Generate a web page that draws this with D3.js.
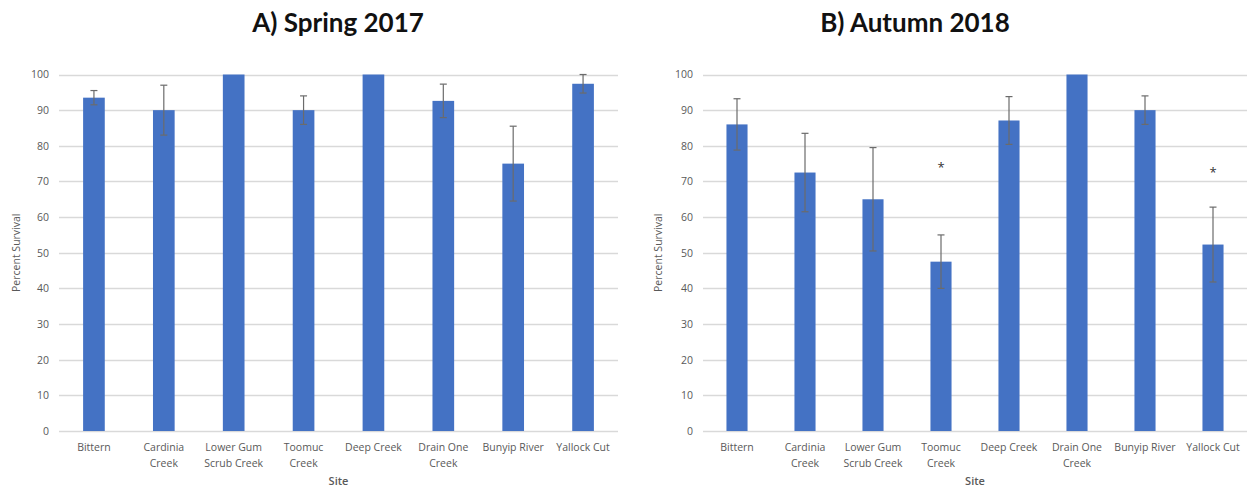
<!DOCTYPE html>
<html>
<head>
<meta charset="utf-8">
<script src="https://cdn.jsdelivr.net/npm/d3@7"></script>
<style>
  html, body { margin: 0; padding: 0; background: #fff; }
  svg { display: block; }
</style>
</head>
<body>
<svg id="chart" width="1252" height="490"></svg>
<script>
const sites = ["Bittern", "Cardinia Creek", "Lower Gum Scrub Creek", "Toomuc Creek", "Deep Creek", "Drain One Creek", "Bunyip River", "Yallock Cut"];
const siteLabels = [["Bittern"], ["Cardinia", "Creek"], ["Lower Gum", "Scrub Creek"], ["Toomuc", "Creek"], ["Deep Creek"], ["Drain One", "Creek"], ["Bunyip River"], ["Yallock Cut"]];
const spring2017 = [93.5, 90, 100, 90, 100, 92.6, 75, 97.4];
const spring2017Err = [2, 7, 0, 4, 0, 4.7, 10.5, 2.6];
const autumn2018 = [86, 72.5, 65, 47.5, 87.1, 100, 90, 52.3];
const autumn2018Err = [7.2, 11, 14.5, 7.5, 6.7, 0, 4, 10.5];
const autumn2018Sig = [false, false, false, true, false, false, false, true];
const sigLevel = [null, null, null, 74.2, null, null, null, 72.9];
const yTicks = [0, 10, 20, 30, 40, 50, 60, 70, 80, 90, 100];
const titles = ["A) Spring 2017", "B) Autumn 2018"];

const svg = d3.select("#chart");
const panels = [
  { title: titles[0], vals: spring2017, err: spring2017Err, x0: 59, x1: 618, titleX: 338, ylabX: 20, sig: null },
  { title: titles[1], vals: autumn2018, err: autumn2018Err, x0: 703, x1: 1247, titleX: 915, ylabX: 662, sig: autumn2018Sig }
];

const y = d3.scaleLinear().domain([0, 100]).range([431, 74.5]);
const axisFont = "'Open Sans', 'DejaVu Sans', sans-serif";

panels.forEach(p => {
  const g = svg.append("g");
  const x = d3.scaleBand().domain(sites).range([p.x0, p.x1]).paddingInner(0.69).paddingOuter(0.345);

  // gridlines
  g.append("g").selectAll("line").data(yTicks).join("line")
    .attr("x1", p.x0).attr("x2", p.x1)
    .attr("y1", d => Math.round(y(d)) + 0.5).attr("y2", d => Math.round(y(d)) + 0.5)
    .attr("stroke", "#d9d9d9").attr("stroke-width", 1.3);

  // y axis labels
  const yAxis = d3.axisLeft(y).tickValues(yTicks).tickSize(0).tickPadding(10);
  const ya = g.append("g").attr("transform", `translate(${p.x0},0)`).call(yAxis);
  ya.select(".domain").remove();
  ya.selectAll("text").attr("fill", "#595959").style("font-family", axisFont).style("font-size", "10.5px");

  // bars
  g.append("g").selectAll("rect").data(p.vals).join("rect")
    .attr("x", (d, i) => x(sites[i]))
    .attr("width", x.bandwidth())
    .attr("y", d => y(d))
    .attr("height", d => y(0) - y(d))
    .attr("fill", "#4472c4");

  // error bars
  const eb = g.append("g").attr("stroke", "#6b6b6b").attr("stroke-width", 1.2);
  p.vals.forEach((v, i) => {
    const e = p.err[i];
    if (!e) return;
    const cx = x(sites[i]) + x.bandwidth() / 2;
    const top = Math.min(100, v + e);
    eb.append("line").attr("x1", cx).attr("x2", cx).attr("y1", y(top)).attr("y2", y(v - e));
    eb.append("line").attr("x1", cx - 3.5).attr("x2", cx + 3.5).attr("y1", y(top)).attr("y2", y(top));
    eb.append("line").attr("x1", cx - 3.5).attr("x2", cx + 3.5).attr("y1", y(v - e)).attr("y2", y(v - e));
  });

  // significance asterisks
  if (p.sig) {
    p.sig.forEach((s, i) => {
      if (!s) return;
      g.append("text")
        .attr("x", x(sites[i]) + x.bandwidth() / 2)
        .attr("y", y(sigLevel[i]) + 6)
        .attr("text-anchor", "middle")
        .attr("fill", "#333")
        .style("font-family", axisFont).style("font-size", "13px")
        .text("*");
    });
  }

  // x labels
  const xl = g.append("g");
  siteLabels.forEach((lines, i) => {
    const cx = x(sites[i]) + x.bandwidth() / 2;
    const t = xl.append("text").attr("x", cx).attr("y", 451)
      .attr("text-anchor", "middle").attr("fill", "#595959")
      .style("font-family", axisFont).style("font-size", "10.5px");
    lines.forEach((ln, k) => {
      t.append("tspan").attr("x", cx).attr("dy", k === 0 ? 0 : 15.5).text(ln);
    });
  });

  // x axis title
  g.append("text").attr("x", (p.x0 + p.x1) / 2).attr("y", 485)
    .attr("text-anchor", "middle").attr("fill", "#595959")
    .style("font-family", axisFont).style("font-size", "11px").style("font-weight", "600")
    .text("Site");

  // y axis title
  g.append("text")
    .attr("transform", `translate(${p.ylabX},${y(50)}) rotate(-90)`)
    .attr("text-anchor", "middle").attr("fill", "#595959")
    .style("font-family", axisFont).style("font-size", "10.5px")
    .text("Percent Survival");

  // chart title
  g.append("text").attr("x", p.titleX).attr("y", 32)
    .attr("text-anchor", "middle").attr("fill", "#111")
    .style("font-family", "Lato, 'Open Sans', sans-serif").style("font-size", "26px").style("font-weight", "700")
    .text(p.title);
});
</script>
</body>
</html>
